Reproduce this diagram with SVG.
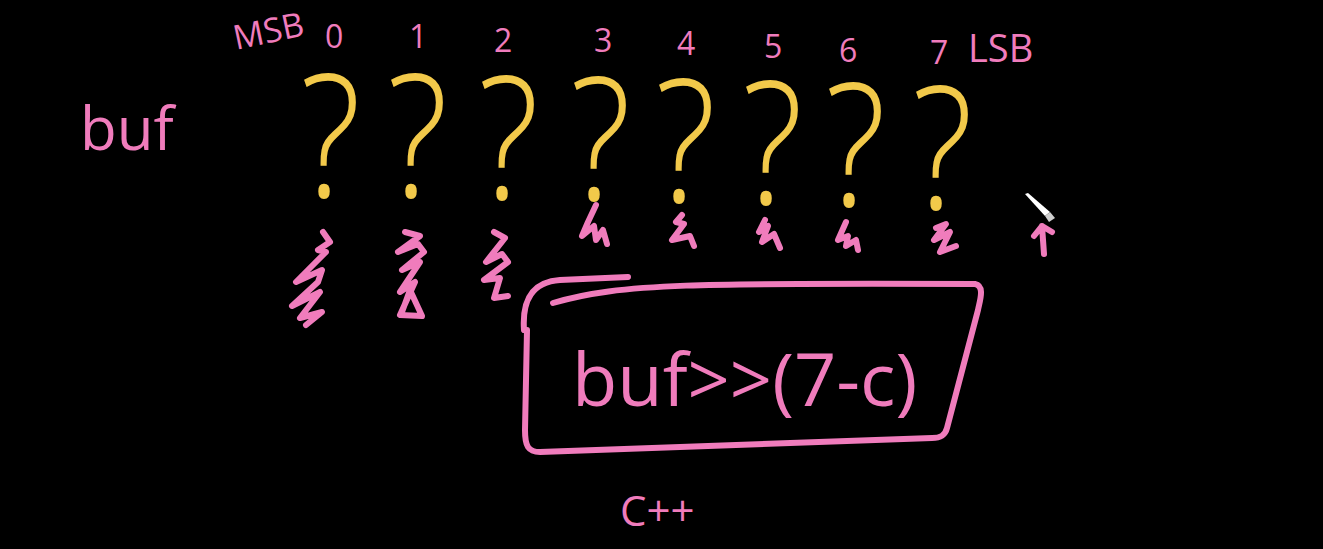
<svg xmlns="http://www.w3.org/2000/svg" width="1323" height="549" viewBox="0 0 1323 549">
<style>
.pk{fill:#f07cbc;font-family:"Open Sans","Liberation Sans",sans-serif;font-weight:400}
.q{fill:#f2c94a;font-family:"Open Sans","Liberation Sans",sans-serif;font-weight:300;font-size:172px}
.sc{fill:none;stroke:#f07cbc;stroke-width:6;stroke-linecap:round;stroke-linejoin:round}
.box{fill:none;stroke:#f07cbc;stroke-width:6;stroke-linecap:round;stroke-linejoin:round}
</style>
<rect width="1323" height="549" fill="#000"/>
<g id="labels">
<text class="pk" x="80" y="150" font-size="60">buf</text>
<text class="pk" x="236" y="50" font-size="34" transform="rotate(-12 236 50)">MSB</text>
<text class="pk" x="325" y="48" font-size="32">0</text>
<text class="pk" x="409" y="48" font-size="32">1</text>
<text class="pk" x="494" y="52" font-size="32">2</text>
<text class="pk" x="594" y="52" font-size="32">3</text>
<text class="pk" x="677" y="55" font-size="32">4</text>
<text class="pk" x="764" y="58" font-size="32">5</text>
<text class="pk" x="839" y="62" font-size="32">6</text>
<text class="pk" x="930" y="64" font-size="32">7</text>
<text class="pk" x="968" y="62" font-size="38">LSB</text>
</g>
<g id="bits">
<g id="bit0" transform="translate(300 0) scale(0.84 1)"><text class="q" x="0" y="197">?</text></g>
<g id="bit1" transform="translate(387 0) scale(0.84 1)"><text class="q" x="0" y="197">?</text></g>
<g id="bit2" transform="translate(478 0) scale(0.84 1)"><text class="q" x="0" y="199">?</text></g>
<g id="bit3" transform="translate(570 0) scale(0.84 1)"><text class="q" x="0" y="200">?</text></g>
<g id="bit4" transform="translate(655 0) scale(0.84 1)"><text class="q" x="0" y="202">?</text></g>
<g id="bit5" transform="translate(742 0) scale(0.84 1)"><text class="q" x="0" y="204">?</text></g>
<g id="bit6" transform="translate(825 0) scale(0.84 1)"><text class="q" x="0" y="206">?</text></g>
<g id="bit7" transform="translate(912 0) scale(0.84 1)"><text class="q" x="0" y="209">?</text></g>
</g>
<g id="scribbles">
<path class="sc" d="M323,232 L330,242 L318,250 L326,252 L296,282 L322,270 L318,282 L292,306 L320,292 L300,318 L322,312 L306,325"/>
<path class="sc" d="M405,232 L420,236 L398,252 L418,244 L424,252 L402,270 L420,262 L400,292 L415,282 L400,315 L422,316 L410,290 L402,312"/>
<path class="sc" d="M494,232 L505,238 L486,262 L502,254 L508,262 L484,280 L500,278 L494,298 L508,296"/>
<path class="sc" d="M596,205 L588,222 L582,236 L594,226 L596,240 L603,230 L607,244"/>
<path class="sc" d="M682,215 L676,222 L684,224 L672,240 L690,236 L694,246"/>
<path class="sc" d="M765,220 L759,232 L768,226 L762,242 L774,234 L780,248"/>
<path class="sc" d="M846,222 L838,240 L848,236 L846,246 L856,240 L858,250"/>
<path class="sc" d="M936,228 L946,224 L934,240 L950,232 L940,252 L956,246"/>
<path class="sc" d="M1044,254 L1042,226 M1034,236 L1042,226 L1052,232"/>
</g>
<g id="cursor">
<path d="M1025,194 L1045,216 L1050,212 L1028,193 Z" fill="#fff"/>
<path d="M1045,216 L1050,212 L1055,218 L1049,222 Z" fill="#cfcfcf"/>
</g>
<g id="expr">
<path class="box" d="M524,330 C522,300 532,282 560,280 L628,277 M553,303 C620,283 700,283 975,284 C985,286 980,300 978,310 L947,428 C945,436 940,438 932,438 L540,452 C528,452 525,446 525,430 L527,330"/>
<text class="pk" x="572" y="406" font-size="74">buf&gt;&gt;(7-c)</text>
</g>
<g id="lang">
<text class="pk" x="620" y="526" font-size="42">C++</text>
</g>
</svg>
